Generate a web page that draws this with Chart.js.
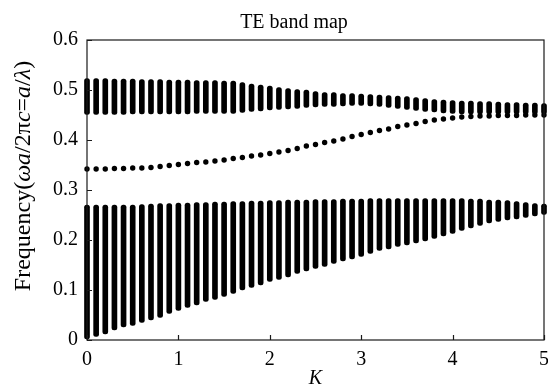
<!DOCTYPE html>
<html>
<head>
<meta charset="utf-8">
<script src="https://cdn.jsdelivr.net/npm/chart.js@4/dist/chart.umd.min.js"></script>
<style>
  html, body { margin:0; padding:0; background:#fff; }
  canvas { display:block; }
</style>
</head>
<body>
<canvas id="bandChart" width="548" height="389"></canvas>
<script>
// ── Data ──────────────────────────────────────────
const K = [0.0,0.1,0.2,0.3,0.4,0.5,0.6,0.7,0.8,0.9,
           1.0,1.1,1.2,1.3,1.4,1.5,1.6,1.7,1.8,1.9,
           2.0,2.1,2.2,2.3,2.4,2.5,2.6,2.7,2.8,2.9,
           3.0,3.1,3.2,3.3,3.4,3.5,3.6,3.7,3.8,3.9,
           4.0,4.1,4.2,4.3,4.4,4.5,4.6,4.7,4.8,4.9,5.0];

// lower band (edges of each column)
const lowBandBottom = [0.002,0.007,0.012,0.020,0.026,0.029,0.035,0.040,0.045,0.053,
                       0.059,0.065,0.070,0.077,0.081,0.087,0.093,0.100,0.105,0.110,
                       0.117,0.121,0.126,0.133,0.138,0.143,0.147,0.153,0.158,0.162,
                       0.167,0.173,0.179,0.182,0.187,0.190,0.194,0.198,0.203,0.208,
                       0.213,0.219,0.224,0.229,0.234,0.237,0.240,0.242,0.245,0.248,0.251];
const lowBandTop = [0.270,0.270,0.270,0.270,0.270,0.270,0.271,0.272,0.273,0.273,
                    0.274,0.274,0.275,0.275,0.276,0.276,0.277,0.277,0.278,0.278,
                    0.279,0.279,0.280,0.280,0.280,0.281,0.281,0.281,0.282,0.282,
                    0.282,0.283,0.283,0.283,0.283,0.283,0.283,0.283,0.283,0.283,
                    0.283,0.283,0.282,0.282,0.280,0.280,0.279,0.277,0.275,0.273,0.272];

// upper band
const highBandBottom = [0.451,0.451,0.451,0.451,0.451,0.452,0.452,0.452,0.452,0.452,
                        0.452,0.452,0.453,0.453,0.453,0.453,0.453,0.455,0.457,0.458,
                        0.460,0.461,0.462,0.463,0.465,0.466,0.467,0.467,0.468,0.469,
                        0.469,0.468,0.467,0.465,0.463,0.461,0.459,0.457,0.456,0.454,
                        0.453,0.452,0.452,0.452,0.452,0.452,0.452,0.452,0.452,0.452,0.452];
const highBandTop = [0.523,0.523,0.523,0.522,0.522,0.522,0.521,0.521,0.521,0.520,
                     0.520,0.520,0.519,0.519,0.519,0.518,0.518,0.515,0.512,0.510,
                     0.508,0.505,0.503,0.501,0.500,0.497,0.495,0.495,0.493,0.493,
                     0.492,0.491,0.490,0.489,0.488,0.487,0.485,0.483,0.481,0.480,
                     0.479,0.478,0.478,0.477,0.477,0.476,0.475,0.475,0.474,0.474,0.473];

// single defect band between the two
const midBand = [0.342,0.342,0.342,0.343,0.343,0.344,0.344,0.345,0.347,0.349,
                 0.351,0.353,0.355,0.356,0.358,0.360,0.363,0.365,0.368,0.370,
                 0.373,0.376,0.379,0.383,0.388,0.391,0.395,0.398,0.402,0.407,
                 0.411,0.415,0.419,0.422,0.427,0.430,0.433,0.437,0.440,0.442,
                 0.444,0.446,0.447,0.448,0.448,0.449,0.449,0.449,0.450,0.450,0.450];

const xTicks = [0, 1, 2, 3, 4, 5];
const yTicks = [0, 0.1, 0.2, 0.3, 0.4, 0.5, 0.6];

const TITLE = "TE band map";
const X_TITLE = "K";
// y title pieces: [text, italic?]
const Y_TITLE = [["Frequency(", false], ["ωa", true], ["/2π", false], ["c", true],
                 ["=", false], ["a", true], ["/", false], ["λ", true], [")", false]];

const SERIF = '"Liberation Serif", "Times New Roman", serif';

// ── Frame: box + inward ticks + titles ──────────────
const framePlugin = {
  id: "frame",
  afterDatasetsDraw(chart) {
    const { ctx, chartArea: a, scales: { x, y } } = chart;
    ctx.save();
    ctx.strokeStyle = "#1a1a1a";
    ctx.lineWidth = 1.2;
    ctx.strokeRect(a.left, a.top, a.right - a.left, a.bottom - a.top);
    ctx.beginPath();
    x.ticks.forEach(t => {
      const px = Math.round(x.getPixelForValue(t.value)) + 0.5;
      ctx.moveTo(px, a.bottom); ctx.lineTo(px, a.bottom - 5);
    });
    y.ticks.forEach(t => {
      const py = Math.round(y.getPixelForValue(t.value)) + 0.5;
      ctx.moveTo(a.left, py); ctx.lineTo(a.left + 5, py);
    });
    ctx.stroke();

    // chart title (sits a little right of the canvas centre)
    ctx.fillStyle = "#000";
    ctx.font = `20px ${SERIF}`;
    ctx.textAlign = "center";
    ctx.textBaseline = "alphabetic";
    ctx.fillText(TITLE, 294, 28);

    // rotated y-axis title
    const size = 24;
    const fonts = it => `${it ? "italic " : ""}${size}px ${SERIF}`;
    let total = 0;
    Y_TITLE.forEach(([s, it]) => { ctx.font = fonts(it); total += ctx.measureText(s).width; });
    ctx.translate(30, 176);
    ctx.rotate(-Math.PI / 2);
    ctx.textAlign = "left";
    let cx = -total / 2;
    Y_TITLE.forEach(([s, it]) => {
      ctx.font = fonts(it);
      ctx.fillText(s, cx, 0);
      cx += ctx.measureText(s).width;
    });
    ctx.restore();
  }
};

// ── Build chart ─────────────────────────────────────
const lowBand = K.map((k, i) => ({ x: k, y: [lowBandBottom[i], lowBandTop[i]] }));
const highBand = K.map((k, i) => ({ x: k, y: [highBandBottom[i], highBandTop[i]] }));
const midPoints = K.map((k, i) => ({ x: k, y: midBand[i] }));

const columnStyle = {
  backgroundColor: "#000",
  borderWidth: 0,
  borderSkipped: false,
  borderRadius: 2.5,
  barThickness: 5,
  grouped: false,
  clip: false,
};

new Chart(document.getElementById("bandChart"), {
  type: "bar",
  data: {
    datasets: [
      { label: "lower band", data: lowBand, ...columnStyle },
      { label: "upper band", data: highBand, ...columnStyle },
      {
        label: "defect band",
        type: "scatter",
        data: midPoints,
        pointStyle: "circle",
        pointRadius: 2.7,
        pointBackgroundColor: "#000",
        pointBorderWidth: 0,
        showLine: false,
        clip: false,
      },
    ],
  },
  options: {
    responsive: false,
    animation: false,
    devicePixelRatio: 1,
    layout: { padding: { left: 0, right: 4, top: 40, bottom: 0 } },
    plugins: {
      legend: { display: false },
      tooltip: { enabled: false },
      title: { display: false },
    },
    scales: {
      x: {
        type: "linear",
        min: 0, max: 5,
        offset: false,
        grid: { display: false, drawTicks: false },
        border: { display: false },
        afterBuildTicks: s => { s.ticks = xTicks.map(v => ({ value: v })); },
        afterFit: s => { s.height = 49; s.paddingLeft = 0; s.paddingRight = 0; },
        ticks: { color: "#000", padding: 8, maxRotation: 0, font: { family: SERIF, size: 20 } },
        title: {
          display: true, text: X_TITLE, color: "#000",
          font: { family: SERIF, size: 20, style: "italic", lineHeight: 1.0 },
          padding: { top: 0, bottom: 0 },
        },
      },
      y: {
        min: 0, max: 0.6,
        grid: { display: false, drawTicks: false },
        border: { display: false },
        afterBuildTicks: s => { s.ticks = yTicks.map(v => ({ value: v })); },
        afterFit: s => { s.width = 87; s.paddingTop = 0; s.paddingBottom = 0; },
        ticks: { color: "#000", padding: 9, font: { family: SERIF, size: 20 } },
      },
    },
  },
  plugins: [framePlugin],
});
</script>
</body>
</html>
